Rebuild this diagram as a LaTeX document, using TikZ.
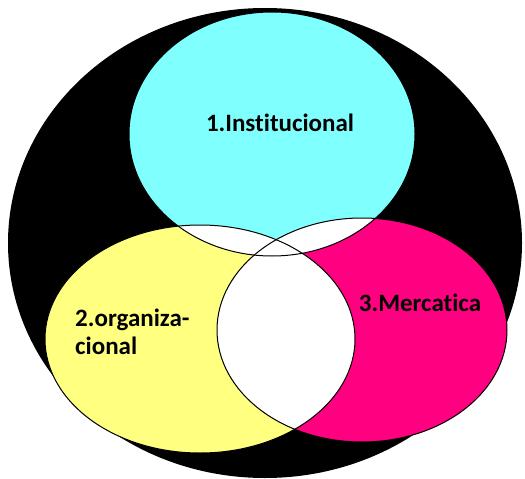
\documentclass[tikz,border=0pt]{standalone}
\usepackage{fontspec}
\setmainfont{Carlito}[Ligatures=NoCommon]
\definecolor{instcyan}{HTML}{80FFFF}
\definecolor{orgyellow}{HTML}{FFFF80}
\definecolor{mercmagenta}{HTML}{FF0080}
\begin{document}
\begin{tikzpicture}[x=1pt,y=-1pt,
  areatext/.style={font=\fontsize{25}{28}\selectfont\bfseries, text=black, inner sep=0pt, align=left},
  outline/.style={draw=black, line width=1pt}]
\useasboundingbox (0,0) rectangle (525,479);
% outer frame
\fill[black] (265,243) ellipse [x radius=257, y radius=235];
% the three areas
\fill[instcyan]    (272,134) ellipse [x radius=143, y radius=122];
\fill[orgyellow]   (200,339) ellipse [x radius=155, y radius=114];
\fill[mercmagenta] (362,330) ellipse [x radius=145, y radius=112];
% overlaps are left white
\begin{scope}
  \clip (272,134) ellipse [x radius=143, y radius=122];
  \fill[white] (200,339) ellipse [x radius=155, y radius=114];
  \fill[white] (362,330) ellipse [x radius=145, y radius=112];
\end{scope}
\begin{scope}
  \clip (200,339) ellipse [x radius=155, y radius=114];
  \fill[white] (362,330) ellipse [x radius=145, y radius=112];
\end{scope}
% borders
\draw[outline] (272,134) ellipse [x radius=143, y radius=122];
\draw[outline] (200,339) ellipse [x radius=155, y radius=114];
\draw[outline] (362,330) ellipse [x radius=145, y radius=112];
% labels
\node[areatext] (inst) at (280,123) {1.Institucional};
\node[areatext, anchor=west] (org) at (75,332) {2.organiza-\\cional};
\node[areatext] (merc) at (420,303) {3.Mercatica};
\end{tikzpicture}
\end{document}
